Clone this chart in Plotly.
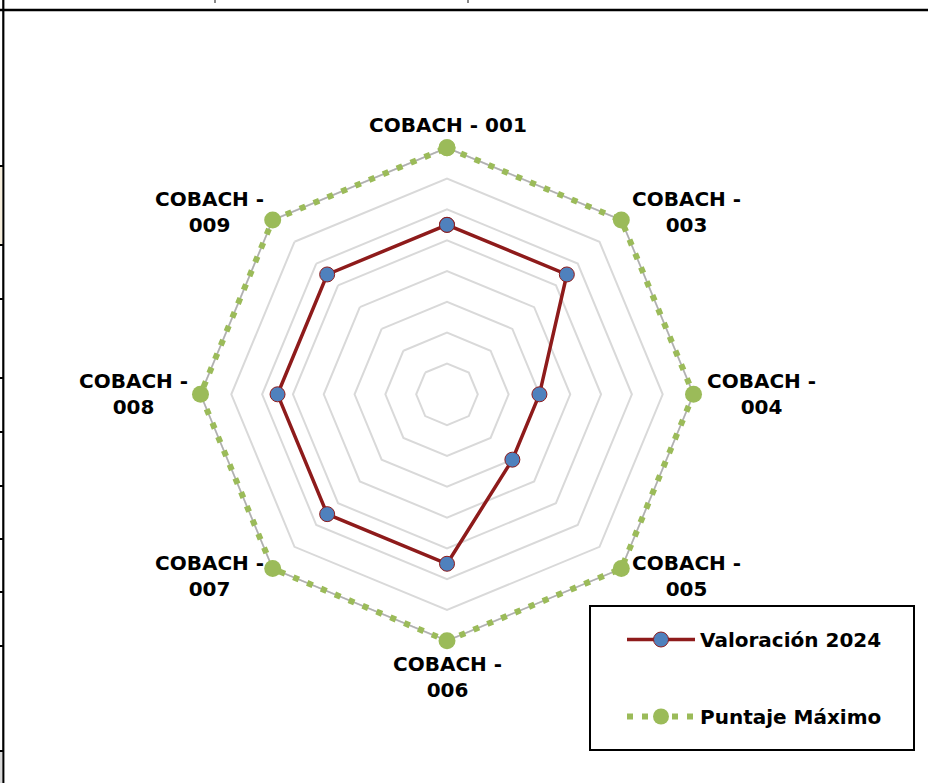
import math
import plotly.graph_objects as go

categories = ["COBACH - 001", "COBACH - 003", "COBACH - 004", "COBACH - 005",
              "COBACH - 006", "COBACH - 007", "COBACH - 008", "COBACH - 009"]
label_texts = ["COBACH - 001", "COBACH -<br>003", "COBACH -<br>004", "COBACH -<br>005",
               "COBACH -<br>006", "COBACH -<br>007", "COBACH -<br>008", "COBACH -<br>009"]
valoracion_2024 = [55, 55, 30, 30, 55, 55, 55, 55]
puntaje_maximo = [80, 80, 80, 80, 80, 80, 80, 80]
radial_max = 80
radial_pad = 84  # axis range slightly larger so the outer line is not clipped

theta_closed = categories + categories[:1]
val_closed = valoracion_2024 + valoracion_2024[:1]
max_closed = puntaje_maximo + puntaje_maximo[:1]

FONT = "DejaVu Sans"
GREEN = "#9bbb59"
RED = "#8e1b1b"
BLUE = "#4f81bd"

fig = go.Figure()

fig.add_trace(go.Scatterpolar(
    r=val_closed, theta=theta_closed, mode="lines+markers",
    name="Valoración 2024", legendgroup="a",
    line=dict(color=RED, width=3.5),
    marker=dict(color=BLUE, size=15, line=dict(color=RED, width=1)),
))
fig.add_trace(go.Scatterpolar(
    r=max_closed, theta=theta_closed, mode="lines",
    line=dict(color="#b0b0b0", width=1.5),
    showlegend=False, hoverinfo="skip",
))
fig.add_trace(go.Scatterpolar(
    r=max_closed, theta=theta_closed, mode="lines+markers",
    name="Puntaje Máximo", legendgroup="b",
    line=dict(color=GREEN, width=6, dash="6px,9px"),
    marker=dict(color=GREEN, size=17),
))

H = 783.0
W = 928.0
cx, cy, R = 447.0, 394.3, 246.5   # R = pixel radius of the outer (max) ring
R_dom = R * radial_pad / radial_max


def px(x):
    return x / W


def py(y):
    return (H - y) / H


shapes = []
shapes.append(dict(type="line", xref="paper", yref="paper", x0=0, x1=1,
                   y0=py(10), y1=py(10), line=dict(color="black", width=2.5)))
shapes.append(dict(type="line", xref="paper", yref="paper", x0=px(3.3), x1=px(3.3),
                   y0=0, y1=1, line=dict(color="black", width=2.2)))
shapes.append(dict(type="rect", xref="paper", yref="paper", x0=0, x1=px(2.2),
                   y0=py(245), y1=py(167), fillcolor="#f6eedc", line=dict(width=0)))
shapes.append(dict(type="rect", xref="paper", yref="paper", x0=0, x1=px(2.2),
                   y0=0, y1=py(751), fillcolor="#d9d9d9", line=dict(width=0)))
for yy in [166, 245, 299, 378, 432, 486, 539, 592, 646, 751]:
    shapes.append(dict(type="line", xref="paper", yref="paper", x0=0, x1=px(3),
                       y0=py(yy), y1=py(yy), line=dict(color="black", width=2)))
for xx in [215, 468]:
    shapes.append(dict(type="line", xref="paper", yref="paper", x0=px(xx), x1=px(xx),
                       y0=py(3), y1=1, line=dict(color="#888888", width=2)))
shapes.append(dict(type="rect", xref="paper", yref="paper", x0=px(590), x1=px(914),
                   y0=py(750), y1=py(606), line=dict(color="black", width=2),
                   fillcolor="rgba(0,0,0,0)"))

label_offsets = [(1, -23), (65, -8), (68, 0), (65, 7), (0, 36), (-63, 7), (-67, 0), (-63, -8)]
annotations = []
for i, txt in enumerate(label_texts):
    a = math.radians(90 - i * 360 / len(categories))
    vx = cx + R * math.cos(a)
    vy = cy - R * math.sin(a)
    dx, dy = label_offsets[i]
    annotations.append(dict(
        x=px(vx + dx), y=py(vy + dy), xref="paper", yref="paper",
        text=txt, showarrow=False, xanchor="center", yanchor="middle", align="center",
        font=dict(family=FONT, size=20, weight="bold", color="black"),
    ))

fig.update_layout(
    width=928, height=783,
    margin=dict(l=0, r=0, t=0, b=0),
    paper_bgcolor="white",
    font=dict(family=FONT, color="black"),
    polar=dict(
        domain=dict(x=[px(cx - R_dom), px(cx + R_dom)], y=[py(cy + R_dom), py(cy - R_dom)]),
        bgcolor="white",
        gridshape="linear",
        radialaxis=dict(range=[0, radial_pad], tickvals=list(range(10, radial_max + 1, 10)),
                        showticklabels=False, ticks="",
                        showline=False, gridcolor="#d9d9d9", gridwidth=1.5),
        angularaxis=dict(rotation=90, direction="clockwise", showgrid=False,
                         showline=False, ticks="", showticklabels=False),
    ),
    showlegend=True,
    legend=dict(x=px(622), y=py(620), xanchor="left", yanchor="top",
                bgcolor="rgba(0,0,0,0)", borderwidth=0, traceorder="grouped",
                tracegroupgap=48, itemwidth=68,
                font=dict(family=FONT, size=20, weight="bold", color="black")),
    annotations=annotations,
    shapes=shapes,
)

fig.write_html("out.html", config={"displayModeBar": False},
               post_script="document.body.style.margin='0px';")
